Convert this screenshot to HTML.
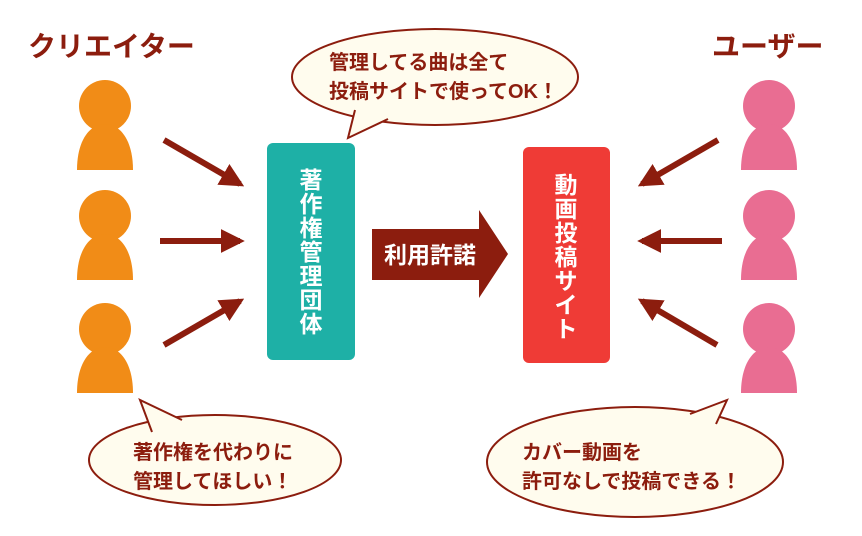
<!DOCTYPE html>
<html><head><meta charset="utf-8"><style>
html,body{margin:0;padding:0;background:#fff;}
svg{display:block;}
text{font-family:"Liberation Sans","Noto Sans CJK JP",sans-serif;}
</style></head><body>
<svg width="862" height="536" viewBox="0 0 862 536" xmlns="http://www.w3.org/2000/svg">
<defs>
<g id="p"><circle cx="0" cy="106" r="26"/><path d="M-28,170 C-28,140 -15,124 0,124 C15,124 28,140 28,170 Z"/></g>
<marker id="ah" viewBox="0 0 10 10" refX="8" refY="5" markerWidth="4" markerHeight="4" orient="auto"><path d="M0,0 L10,5 L0,10 Z" fill="#8c1d0e"/></marker>
</defs>
<text x="28" y="56" font-size="28" font-weight="bold" fill="#8c1d0e">クリエイター</text>
<text x="712" y="56" font-size="28" font-weight="bold" fill="#8c1d0e">ユーザー</text>
<g fill="#f18c17">
<use href="#p" x="105" y="0"/><use href="#p" x="105" y="110"/><use href="#p" x="105" y="223"/>
</g>
<g fill="#e96d92">
<use href="#p" x="769" y="0"/><use href="#p" x="769" y="110"/><use href="#p" x="769" y="223"/>
</g>
<g stroke="#8c1d0e" stroke-width="6" marker-end="url(#ah)">
<line x1="164" y1="140" x2="240" y2="184"/>
<line x1="160" y1="241" x2="240" y2="241"/>
<line x1="164" y1="345" x2="240" y2="301"/>
<line x1="718" y1="140" x2="642" y2="184"/>
<line x1="722" y1="241" x2="642" y2="241"/>
<line x1="717" y1="345" x2="642" y2="301"/>
</g>
<rect x="267" y="143" width="88" height="217" rx="6" fill="#1eb0a6"/>
<rect x="523" y="147" width="87" height="216" rx="6" fill="#ef3b36"/>
<g font-size="23" font-weight="bold" fill="#fff" text-anchor="middle">
<text x="311" y="188">著</text><text x="311" y="212">作</text><text x="311" y="236">権</text><text x="311" y="260">管</text><text x="311" y="284">理</text><text x="311" y="308">団</text><text x="311" y="332">体</text>
<text x="566" y="193">動</text><text x="566" y="217">画</text><text x="566" y="241">投</text><text x="566" y="265">稿</text><text x="566" y="289">サ</text><text x="566" y="313">イ</text><text x="566" y="337">ト</text>
</g>
<path d="M372,229 L479,229 L479,210 L508,254 L479,298 L479,280 L372,280 Z" fill="#8c1d0e"/>
<text x="384" y="263" font-size="23" font-weight="bold" fill="#fff">利用許諾</text>
<g fill="#fffcee" stroke="#8c1d0e" stroke-width="2">
<ellipse cx="435" cy="77" rx="143" ry="48"/>
<path d="M355,110 L348,138 L388,119"/>
<ellipse cx="215" cy="460" rx="126" ry="45"/>
<path d="M152,432 L140,400 L182,420"/>
<ellipse cx="635" cy="462" rx="148" ry="55"/>
<path d="M690,414 L727,400 L716,424"/>
</g>
<g font-size="20" font-weight="bold" fill="#8c1d0e">
<text x="329" y="69">管理してる曲は全て</text>
<text x="329" y="98">投稿サイトで使ってOK！</text>
<text x="133" y="459">著作権を代わりに</text>
<text x="133" y="488">管理してほしい！</text>
<text x="522" y="459">カバー動画を</text>
<text x="522" y="488">許可なしで投稿できる！</text>
</g>
</svg>
</body></html>
